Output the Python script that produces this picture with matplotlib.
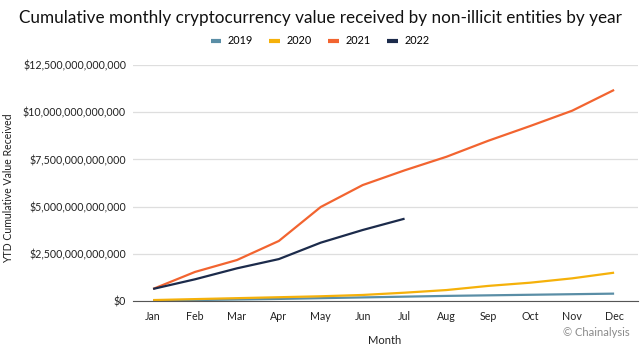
import matplotlib as mpl
import matplotlib.pyplot as plt
from matplotlib.ticker import FuncFormatter

MONTHS = ["Jan", "Feb", "Mar", "Apr", "May", "Jun", "Jul", "Aug", "Sep", "Oct", "Nov", "Dec"]

# values in trillions of USD
V2019 = [0.02, 0.05, 0.08, 0.11, 0.15, 0.19, 0.23, 0.27, 0.30, 0.33, 0.36, 0.39]
V2020 = [0.05, 0.10, 0.15, 0.20, 0.25, 0.32, 0.44, 0.58, 0.80, 0.97, 1.20, 1.50]
V2021 = [0.64, 1.54, 2.17, 3.18, 4.98, 6.14, 6.92, 7.64, 8.49, 9.27, 10.08, 11.18]
V2022 = [0.64, 1.15, 1.73, 2.22, 3.09, 3.76, 4.36]

SERIES = [
    ("2019", V2019, "#5a8ea6"),
    ("2020", V2020, "#f5b10a"),
    ("2021", V2021, "#f26430"),
    ("2022", V2022, "#1c2b4b"),
]

YTICKS = [0, 2.5, 5, 7.5, 10, 12.5]

mpl.rcParams.update({"font.family": ["Lato", "DejaVu Sans"], "font.size": 8})

fig = plt.figure(figsize=(6.4, 3.49), dpi=100)
ax = fig.add_axes([133 / 640, 1 - 301 / 349, 505 / 640, 236 / 349])

for label, vals, color in SERIES:
    ax.plot(range(len(vals)), [v * 1e12 for v in vals], color=color, lw=1.6, label=label,
            solid_capstyle="butt")

ax.set_xlim(-0.48, 11.57)
ax.set_ylim(0, 12.5e12)
ax.set_xticks(range(12))
ax.set_xticklabels(MONTHS)
ax.set_yticks([t * 1e12 for t in YTICKS])
ax.yaxis.set_major_formatter(FuncFormatter(lambda v, p: f"${v:,.0f}"))
ax.grid(axis="y", color="#dedede", lw=0.9)
ax.set_axisbelow(True)
for s in ["top", "right", "left"]:
    ax.spines[s].set_visible(False)
ax.spines["bottom"].set_color("#555555")
ax.tick_params(axis="both", length=0, labelsize=7.7, colors="#222222")
ax.tick_params(axis="x", pad=7)
ax.tick_params(axis="y", pad=5)

fig.text(0.5, 1 - 18 / 349, "Cumulative monthly cryptocurrency value received by non-illicit entities by year",
         ha="center", va="center", fontsize=12.3, color="#111111")
fig.text(9 / 640, 1 - 188 / 349, "YTD Cumulative Value Received", rotation=90,
         ha="center", va="center", fontsize=7.6, color="#222222")
fig.text(385 / 640, 1 - 340 / 349, "Month", ha="center", va="center", fontsize=8, color="#222222")
fig.text(630 / 640, 1 - 333 / 349, "© Chainalysis", ha="right", va="center", fontsize=8, color="#8a8a8a")

fig.legend(loc="center", bbox_to_anchor=(320 / 640, 1 - 41 / 349), ncol=4, frameon=False,
           fontsize=7.8, handlelength=1.0, handletextpad=0.6, columnspacing=1.5)
for line in fig.legends[0].get_lines():
    line.set_linewidth(3)

fig.savefig("out.png", dpi=100)
